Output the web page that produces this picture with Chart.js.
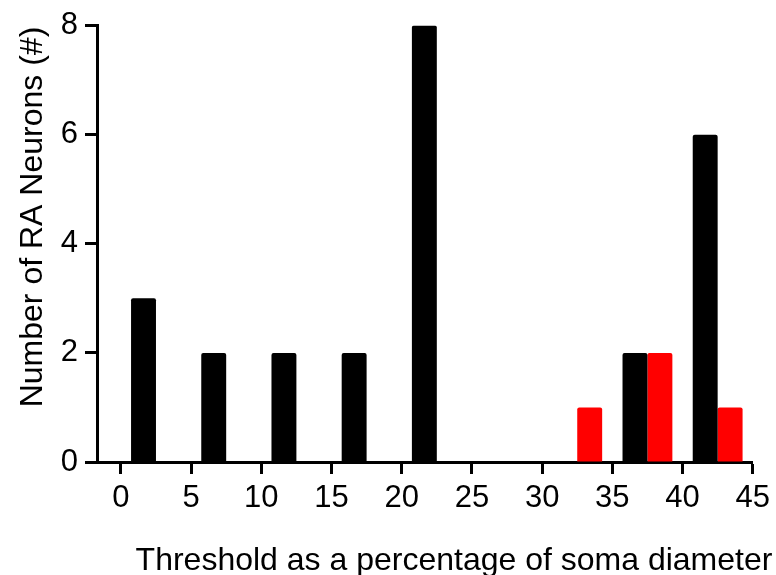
<!DOCTYPE html>
<html>
<head>
<meta charset="utf-8">
<script src="https://cdn.jsdelivr.net/npm/chart.js@4.4.1/dist/chart.umd.min.js"></script>
<style>
  html, body { margin: 0; padding: 0; background: #fff; }
  #wrap { width: 776px; height: 575px; }
</style>
</head>
<body>
<div id="wrap"><canvas id="c" width="776" height="575"></canvas></div>
<script>
// ---- data ----
const binCenters = [2.5, 7.5, 12.5, 17.5, 22.5, 27.5, 32.5, 37.5, 42.5];
const blackCounts = [3, 2, 2, 2, 8, 0, 0, 2, 6];
const redCounts   = [0, 0, 0, 0, 0, 0, 1, 2, 1];
const xTicks = [0, 5, 10, 15, 20, 25, 30, 35, 40, 45];
const yTicks = [0, 2, 4, 6, 8];
const xTitle = "Threshold as a percentage of soma diameter";
const yTitle = "Number of RA Neurons (#)";

const FONT = "'Liberation Sans', Arial, Helvetica, sans-serif";

const titlesPlugin = {
  id: 'titles',
  afterDraw(chart) {
    const ctx = chart.ctx;
    ctx.save();
    ctx.fillStyle = '#000';
    ctx.font = "32px " + FONT;
    ctx.textAlign = 'center';
    ctx.textBaseline = 'alphabetic';
    ctx.fillText(xTitle, 454, 570);
    ctx.restore();

    ctx.save();
    ctx.fillStyle = '#000';
    ctx.font = "32px " + FONT;
    ctx.textAlign = 'center';
    ctx.textBaseline = 'alphabetic';
    ctx.translate(42, 217);
    ctx.rotate(-Math.PI / 2);
    ctx.fillText(yTitle, 0, 0);
    ctx.restore();
  }
};

new Chart(document.getElementById('c'), {
  type: 'bar',
  data: {
    datasets: [
      {
        data: binCenters.map((x, i) => ({ x: x, y: blackCounts[i] })),
        backgroundColor: '#000000',
        borderWidth: 0,
        borderRadius: 2,
        categoryPercentage: 0.71,
        barPercentage: 1.0
      },
      {
        data: binCenters.map((x, i) => ({ x: x, y: redCounts[i] })),
        backgroundColor: '#ff0000',
        borderWidth: 0,
        borderRadius: 2,
        categoryPercentage: 0.71,
        barPercentage: 1.0
      }
    ]
  },
  options: {
    responsive: false,
    animation: false,
    devicePixelRatio: 1,
    layout: { padding: { left: 0, right: 23, top: 24, bottom: 0 } },
    plugins: {
      legend: { display: false },
      tooltip: { enabled: false },
      title: { display: false }
    },
    scales: {
      x: {
        type: 'linear',
        min: -1.7,
        max: 45,
        offset: false,
        afterBuildTicks: (s) => { s.ticks = xTicks.map(v => ({ value: v })); },
        afterFit: (s) => { s.height = 113; },
        grid: {
          display: true,
          offset: false,
          drawOnChartArea: false,
          drawTicks: true,
          tickLength: 12,
          tickWidth: 3,
          tickColor: '#000'
        },
        border: { display: true, color: '#000', width: 3 },
        ticks: {
          color: '#000',
          padding: 6,
          maxRotation: 0,
          autoSkip: false,
          font: { family: FONT, size: 31 }
        }
      },
      y: {
        min: 0,
        max: 8,
        afterBuildTicks: (s) => { s.ticks = yTicks.map(v => ({ value: v })); },
        afterFit: (s) => { s.width = 97; },
        grid: {
          display: true,
          offset: false,
          drawOnChartArea: false,
          drawTicks: true,
          tickLength: 12,
          tickWidth: 3,
          tickColor: '#000'
        },
        border: { display: true, color: '#000', width: 3 },
        ticks: {
          color: '#000',
          padding: 7,
          font: { family: FONT, size: 31 }
        }
      }
    }
  },
  plugins: [titlesPlugin]
});
</script>
</body>
</html>
